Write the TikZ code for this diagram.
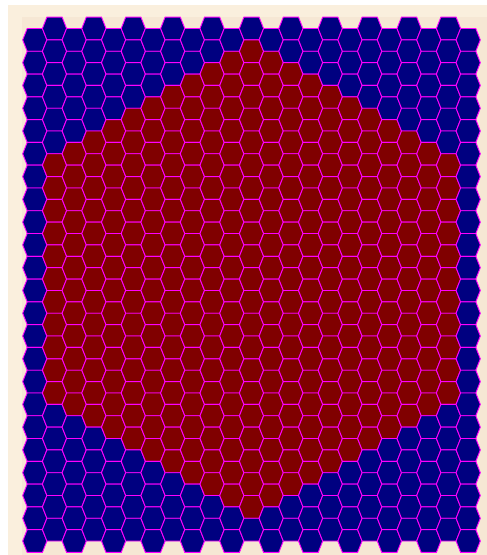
\documentclass[tikz,border=0pt]{standalone}
\definecolor{outerbg}{HTML}{FAEFDD}
\definecolor{innerbg}{HTML}{F6E7D4}
\definecolor{hexblue}{HTML}{000080}
\definecolor{hexred}{HTML}{800000}
\definecolor{hexedge}{HTML}{FF00FF}
\tikzset{hexcell/.style={draw=hexedge, line width=0.9pt, line join=miter}}
\begin{document}
\begin{tikzpicture}[x=1pt,y=-1pt]
\useasboundingbox (0,0) rectangle (487,555);
\fill[white] (0,0) rectangle (487,555);
\fill[outerbg] (8,5) rectangle (487,555);
\fill[innerbg] (22,17) rectangle (487,555);
\foreach \c in {0,...,22}{
  \foreach \r in {0,...,22}{
    \pgfmathtruncatemacro{\Yv}{2*\r+1-mod(\c,2)}
    \pgfmathtruncatemacro{\dc}{abs(\c-11)}
    \pgfmathtruncatemacro{\dY}{abs(\Yv-22)}
    \pgfmathtruncatemacro{\dd}{\dc+max(0,(\dY-\dc)/2)}
    \pgfmathsetmacro{\Lx}{22.7+19.7*\c}
    \pgfmathsetmacro{\Ty}{28.5-11.4*mod(\c,2)+22.78*\r+11.39}
    \ifnum\dd>10 \def\hc{hexblue}\else\def\hc{hexred}\fi
    \filldraw[hexcell, fill=\hc] (\Lx,\Ty) -- ++(4.5,-11.39) -- ++(15.2,0) -- ++(4.5,11.39) -- ++(-4.5,11.39) -- ++(-15.2,0) -- cycle;
  }
}
\end{tikzpicture}
\end{document}
